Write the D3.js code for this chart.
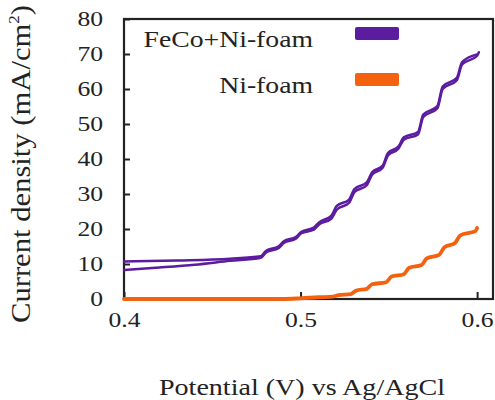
<!DOCTYPE html>
<html lang="en">
<head>
<meta charset="UTF-8">
<title>current density</title>
<script src="https://d3js.org/d3.v7.min.js"></script>
<style>
    html, body { margin: 0; padding: 0; background: #fff; }
    svg text { font-family: "Liberation Serif", "Times New Roman", Times, serif; fill: #222; }
    .line { fill: none; stroke-linejoin: round; stroke-linecap: round; }
</style>
</head>
<body>
<div id="chart"></div>
<script>

    // data
    var seriesNames = ["FeCo+Ni-foam", "Ni-foam"];
    var seriesColors = ["#5b1c9f", "#f5620f"];

    // FeCo+Ni-foam, forward scan (lower line at start)
    var feCoFwdV = [0.400, 0.420, 0.440, 0.460, 0.4775, 0.4805, 0.4875, 0.4905, 0.4975, 0.5005, 0.5075, 0.5105, 0.5175,
        0.5205, 0.5275, 0.5305, 0.5375, 0.5405, 0.5465, 0.5495, 0.5555, 0.5585, 0.5665, 0.5695, 0.5775, 0.5805, 0.5885,
        0.5915, 0.600, 0.601];
    var feCoFwdJ = [8.3, 9.0, 9.8, 10.9, 11.8, 13.3, 14.5, 16.0, 17.3, 18.8, 19.8, 21.3, 23.0,
        25.5, 27.5, 30.5, 32.5, 35.5, 37.5, 41.0, 43.0, 45.5, 47.0, 52.0, 54.5, 60.0, 62.5,
        67.0, 69.5, 70.5];

    // FeCo+Ni-foam, reverse scan (upper line at start)
    var feCoRevV = [0.400, 0.430, 0.460, 0.4775, 0.4805, 0.4875, 0.4905, 0.4975, 0.5005, 0.5075, 0.5105, 0.5175,
        0.5205, 0.5275, 0.5305, 0.5375, 0.5405, 0.5465, 0.5495, 0.5555, 0.5585, 0.5665, 0.5695, 0.5775, 0.5805, 0.5885,
        0.5915, 0.600];
    var feCoRevJ = [10.7, 11.0, 11.5, 12.2, 13.8, 15.0, 16.5, 17.8, 19.2, 20.4, 21.9, 23.8,
        26.6, 28.4, 31.4, 33.3, 36.2, 38.1, 41.7, 43.6, 46.2, 47.7, 52.7, 55.1, 60.7, 63.2,
        67.7, 69.9];

    // Ni-foam
    var niV = [0.400, 0.490, 0.500, 0.510, 0.5185, 0.5215, 0.5285, 0.5315, 0.5375, 0.5405, 0.5485, 0.5515, 0.5585,
        0.5615, 0.5685, 0.5715, 0.5785, 0.5815, 0.5875, 0.5905, 0.599, 0.600];
    var niJ = [0.0, 0.0, 0.2, 0.5, 0.7, 1.1, 1.4, 2.4, 2.9, 4.2, 4.8, 6.4, 7.1,
        8.9, 9.7, 11.6, 12.6, 14.8, 16.0, 18.2, 19.4, 20.3];

    var xTicks = [0.4, 0.5, 0.6];
    var yTicks = [0, 10, 20, 30, 40, 50, 60, 70, 80];

    // layout
    var W = 495, H = 400;
    var plotL = 124, plotR = 493, plotT = 19, plotB = 299;
    var stretch = 1.22;   // text in the picture is wider than the font

    var x = d3.scaleLinear().domain([0.4, 0.609]).range([plotL, plotR]);
    var y = d3.scaleLinear().domain([0, 80]).range([plotB, plotT]);

    var svg = d3.select("#chart").append("svg")
        .attr("width", W)
        .attr("height", H);

    function pts(vs, js) {
        return vs.map(function(v, i) { return {V: v, J: js[i]}; });
    }

    var valueline = d3.line()
        .curve(d3.curveMonotoneX)
        .x(function(d) { return x(d.V); })
        .y(function(d) { return y(d.J); });

    // axes
    var yAxis = svg.append("g")
        .attr("transform", "translate(" + plotL + ",0)")
        .call(d3.axisLeft(y).tickValues(yTicks).tickSizeInner(-6).tickSizeOuter(0).tickPadding(21));
    var xAxis = svg.append("g")
        .attr("transform", "translate(0," + plotB + ")")
        .call(d3.axisBottom(x).tickValues(xTicks).tickFormat(d3.format(".1f"))
            .tickSizeInner(-7).tickSizeOuter(0).tickPadding(13));

    [yAxis, xAxis].forEach(function(a) {
        a.attr("font-family", null);
        a.select(".domain").remove();
        a.selectAll(".tick line").attr("stroke", "#222").attr("stroke-width", 2);
        a.selectAll(".tick text").attr("font-size", 21).attr("fill", "#222").classed("st", true);
    });

    // frame
    svg.append("rect")
        .attr("x", plotL).attr("y", plotT)
        .attr("width", plotR - plotL).attr("height", plotB - plotT)
        .attr("fill", "none").attr("stroke", "#222").attr("stroke-width", 2.2);

    // curves
    svg.append("path").attr("class", "line")
        .attr("stroke", seriesColors[1]).attr("stroke-width", 3.8)
        .attr("d", valueline(pts(niV, niJ)));
    svg.append("path").attr("class", "line")
        .attr("stroke", seriesColors[0]).attr("stroke-width", 2.5)
        .attr("d", valueline(pts(feCoRevV, feCoRevJ)));
    svg.append("path").attr("class", "line")
        .attr("stroke", seriesColors[0]).attr("stroke-width", 2.5)
        .attr("d", valueline(pts(feCoFwdV, feCoFwdJ)));

    // legend
    var legendY = [47, 93];
    seriesNames.forEach(function(name, i) {
        svg.append("text")
            .attr("class", "st")
            .attr("x", 313).attr("y", legendY[i])
            .attr("text-anchor", "end")
            .attr("font-size", 22.7)
            .text(name);
        svg.append("rect")
            .attr("x", 355).attr("y", legendY[i] - 20)
            .attr("width", 44).attr("height", 13)
            .attr("rx", 2)
            .attr("fill", seriesColors[i]);
    });

    // axis titles
    svg.append("text")
        .attr("class", "st")
        .attr("x", 302).attr("y", 395)
        .attr("text-anchor", "middle")
        .attr("font-size", 23)
        .text("Potential (V) vs Ag/AgCl");

    var yt = svg.append("text")
        .attr("transform", "translate(30,164) rotate(-90)")
        .attr("text-anchor", "middle")
        .attr("font-size", 27);
    yt.append("tspan").text("Current density (mA/cm");
    yt.append("tspan").attr("font-size", 15).attr("dy", -11).text("2");
    yt.append("tspan").attr("dy", 11).text(")");

    svg.selectAll("text.st").each(function() {
        var w = this.getComputedTextLength();
        d3.select(this).attr("textLength", w * stretch).attr("lengthAdjust", "spacingAndGlyphs");
    });
    yt.attr("textLength", 318).attr("lengthAdjust", "spacingAndGlyphs");

</script>
</body>
</html>
